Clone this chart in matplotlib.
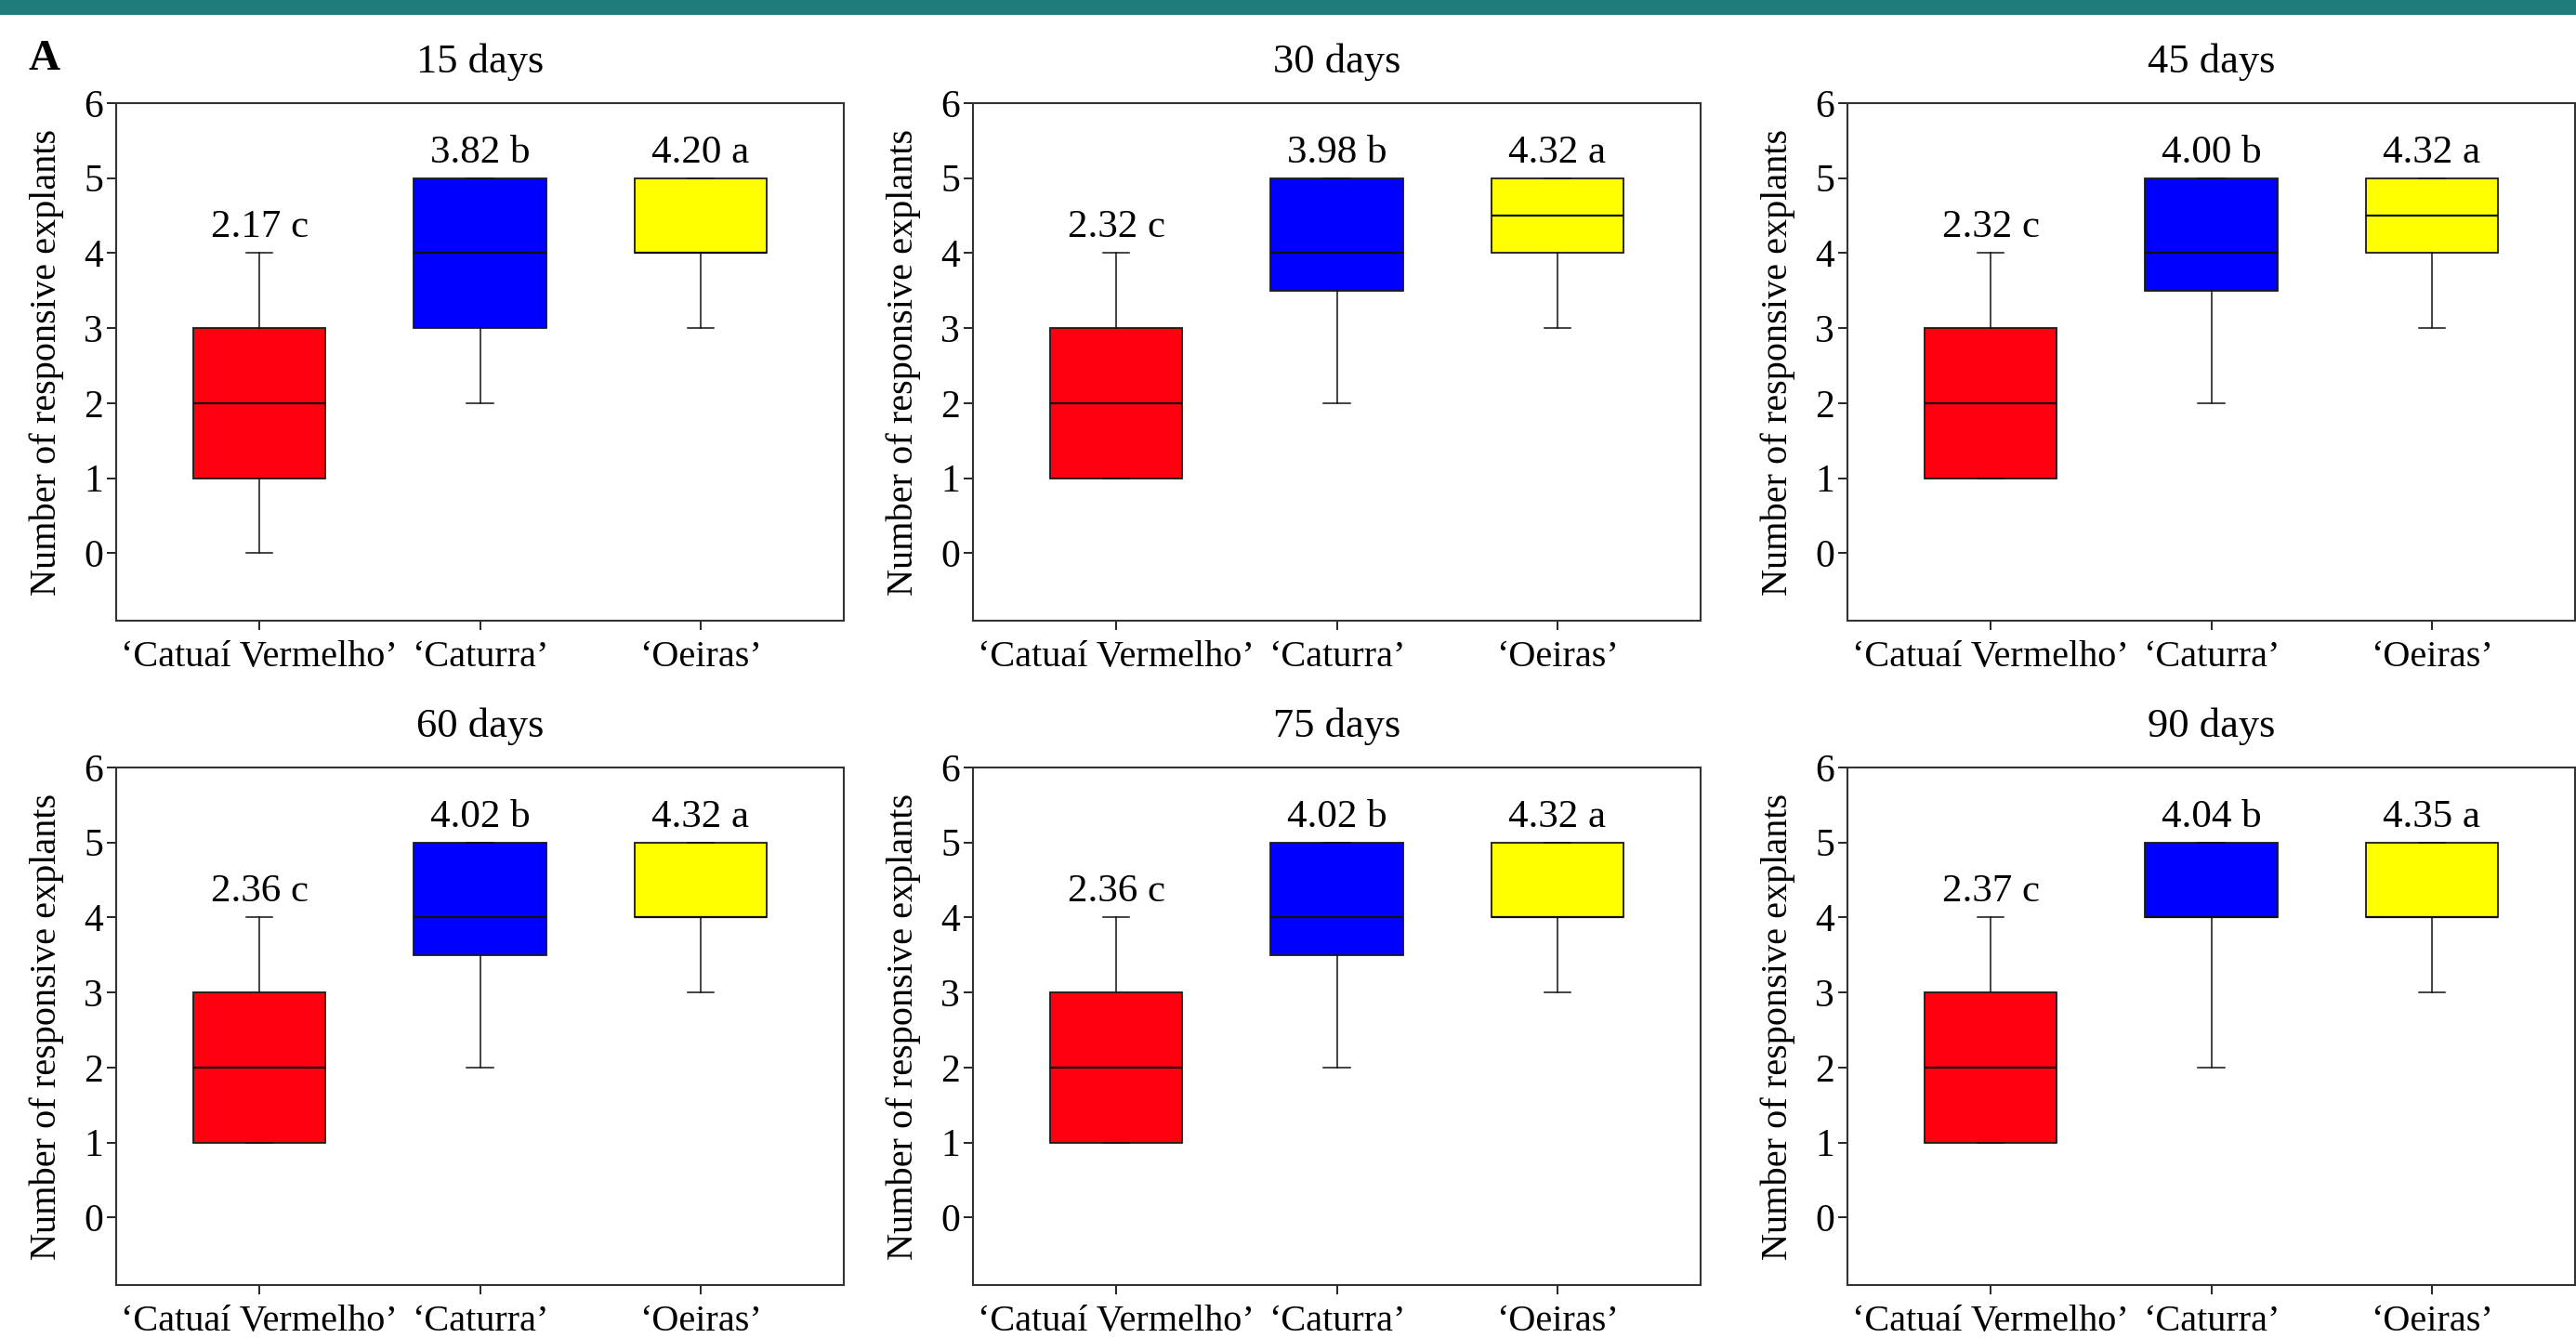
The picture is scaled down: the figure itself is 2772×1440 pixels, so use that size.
import matplotlib
matplotlib.use('Agg')
import matplotlib.pyplot as plt
import matplotlib.patches as patches

plt.rcParams['font.family'] = ['Liberation Serif', 'DejaVu Serif']

# Data
titles = ['15 days', '30 days', '45 days', '60 days', '75 days', '90 days']
cultivars = ['\u2018Catua\u00ed Vermelho\u2019', '\u2018Caturra\u2019', '\u2018Oeiras\u2019']
letters = ['c', 'b', 'a']
colors = ['#FF0010', '#0000FF', '#FFFF00']

means = [[2.17, 3.82, 4.20],
         [2.32, 3.98, 4.32],
         [2.32, 4.00, 4.32],
         [2.36, 4.02, 4.32],
         [2.36, 4.02, 4.32],
         [2.37, 4.04, 4.35]]
whislo = [[0, 2, 3], [1, 2, 3], [1, 2, 3], [1, 2, 3], [1, 2, 3], [1, 2, 3]]
q1 = [[1, 3, 4], [1, 3.5, 4], [1, 3.5, 4], [1, 3.5, 4], [1, 3.5, 4], [1, 4, 4]]
med = [[2, 4, 4], [2, 4, 4.5], [2, 4, 4.5], [2, 4, 4], [2, 4, 4], [2, 4, 4]]
q3 = [[3, 5, 5], [3, 5, 5], [3, 5, 5], [3, 5, 5], [3, 5, 5], [3, 5, 5]]
whishi = [[4, 5, 5], [4, 5, 5], [4, 5, 5], [4, 5, 5], [4, 5, 5], [4, 5, 5]]

W, H = 2772, 1440
fig = plt.figure(figsize=(W / 100, H / 100), dpi=100)

# teal banner at the top
fig.patches.append(patches.Rectangle((0, 1 - 16 / H), 1, 16 / H, transform=fig.transFigure,
                                     facecolor='#1F7B79', edgecolor='none'))

lefts = [125, 1047, 1988]
tops = [111, 826]
aw, ah = 783, 557

for i, title in enumerate(titles):
    r, c = divmod(i, 3)
    ax = fig.add_axes([lefts[c] / W, 1 - (tops[r] + ah) / H, aw / W, ah / H])
    stats = []
    for j in range(3):
        stats.append(dict(whislo=whislo[i][j], q1=q1[i][j], med=med[i][j],
                          q3=q3[i][j], whishi=whishi[i][j], fliers=[]))
    bp = ax.bxp(stats, positions=[1, 2, 3], widths=0.6, capwidths=0.12,
                patch_artist=True, showfliers=False,
                boxprops=dict(linewidth=1.3, edgecolor='#1a1a1a'),
                medianprops=dict(color='#111111', linewidth=1.6),
                whiskerprops=dict(color='#111111', linewidth=1.1),
                capprops=dict(color='#111111', linewidth=1.1))
    for box, col in zip(bp['boxes'], colors):
        box.set_facecolor(col)
    for j in range(3):
        top = max(q3[i][j], whishi[i][j])
        ax.text(j + 1, top + 0.34, f'{means[i][j]:.2f} {letters[j]}',
                ha='center', va='center', fontsize=31)

    ax.set_xlim(0.35, 3.65)
    ax.set_ylim(-0.9, 6)
    ax.set_yticks(range(7))
    ax.set_xticks([1, 2, 3])
    ax.set_xticklabels(cultivars)
    ax.tick_params(axis='both', direction='out', length=7, width=1.2, labelsize=30)
    ax.tick_params(axis='x', labelsize=29, pad=8)
    ax.tick_params(axis='y', pad=3)
    for s in ax.spines.values():
        s.set_linewidth(1.5)
        s.set_color('#333333')
    ax.set_ylabel('Number of responsive explants', fontsize=29, labelpad=15)
    ax.set_title(title, fontsize=32, pad=24)

fig.text(48 / W, 1 - 64 / H, 'A', fontsize=34, fontweight='bold', ha='center', va='center')

fig.savefig('out.png', dpi=100, facecolor='white')
